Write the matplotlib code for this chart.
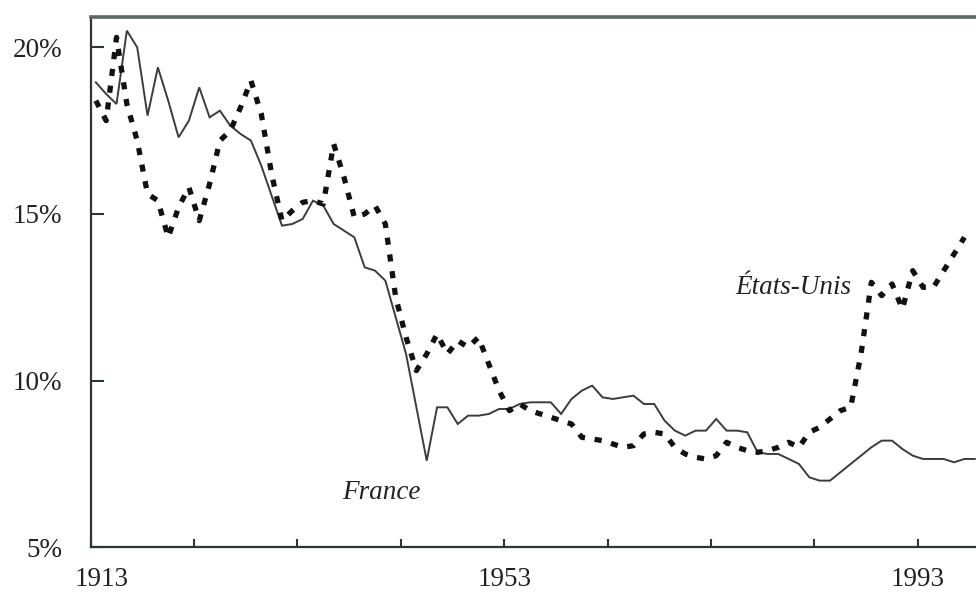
import numpy as np
import matplotlib
matplotlib.use("Agg")
import matplotlib.pyplot as plt
import matplotlib.transforms as mtransforms

# ---- data (share, %) ----
years_fr = list(range(1913, 1999))
france = [18.95, 18.6, 18.3, 20.5, 20.0, 17.95, 19.4, 18.4, 17.3, 17.8,
          18.8, 17.9, 18.1, 17.65, 17.4, 17.2, 16.45, 15.55, 14.65, 14.7,
          14.85, 15.4, 15.25, 14.7, 14.5, 14.3, 13.4, 13.3, 13.0, 11.9,
          10.8, 9.2, 7.6, 9.2, 9.2, 8.7, 8.95, 8.95, 9.0, 9.15,
          9.15, 9.3, 9.35, 9.35, 9.35, 9.0, 9.45, 9.7, 9.85, 9.5,
          9.45, 9.5, 9.55, 9.3, 9.3, 8.8, 8.5, 8.35, 8.5, 8.5,
          8.85, 8.5, 8.5, 8.45, 7.85, 7.8, 7.8, 7.65, 7.5, 7.1,
          7.0, 7.0, 7.25, 7.5, 7.75, 8.0, 8.2, 8.2, 7.95, 7.75,
          7.65, 7.65, 7.65, 7.55, 7.65, 7.65]

years_us = list(range(1913, 1998))
usa = [18.4, 17.8, 20.3, 18.3, 17.2, 15.6, 15.4, 14.3, 15.2, 15.8,
       14.8, 15.9, 17.2, 17.5, 18.2, 19.0, 18.0, 16.2, 14.8, 15.1,
       15.35, 15.4, 15.3, 17.1, 16.1, 14.9, 15.0, 15.25, 14.7, 12.5,
       11.3, 10.3, 10.8, 11.4, 10.8, 11.2, 11.0, 11.3, 10.5, 9.7,
       9.1, 9.3, 9.1, 9.0, 8.9, 8.8, 8.7, 8.3, 8.25, 8.2,
       8.1, 8.0, 8.05, 8.4, 8.45, 8.4, 8.0, 7.8, 7.7, 7.65,
       7.75, 8.15, 8.0, 7.9, 7.85, 7.9, 8.0, 8.15, 8.0, 8.45,
       8.6, 8.85, 9.1, 9.2, 10.8, 12.95, 12.55, 12.9, 12.15, 13.3,
       12.8, 12.8, 13.3, 13.8, 14.3]

xtick_years = list(range(1913, 2000, 10))
xtick_labels = ["1913", "", "", "", "1953", "", "", "", "1993"]
ytick_values = [5, 10, 15, 20]
ytick_labels = ["5%", "10%", "15%", "20%"]

label_fr = "France"
label_us = "États-Unis"

# ---- figure ----
plt.rcParams['font.family'] = ['Liberation Serif', 'DejaVu Serif']
fig = plt.figure(figsize=(9.76, 5.92), dpi=100)
ax = fig.add_axes([0.0929, 0.0755, 0.9071, 0.8958])

# values plotted at mid-year
x_fr = np.array(years_fr) + 0.5
x_us = np.array(years_us) + 0.5

ax.plot(x_fr, france, color='#3c3c3c', lw=1.4, solid_joinstyle='miter')
ax.plot(x_us, usa, color='#111111', lw=3.8, linestyle=(0, (1.35, 1.85)),
        dash_capstyle='butt')

ax.set_xlim(1913, 1998.62)
ax.set_ylim(5, 20.91)

ax.set_xticks(xtick_years)
ax.set_xticklabels(xtick_labels)
ax.set_yticks(ytick_values)
ax.set_yticklabels(ytick_labels)

ax.tick_params(axis='x', direction='in', length=6, width=1.5, color='#2b3636',
               pad=14.5, labelsize=19.5, labelcolor='#222222')
ax.tick_params(axis='y', direction='in', length=9, width=1.5, color='#2b3636',
               pad=20.5, labelsize=19.5, labelcolor='#222222')

for side in ['left', 'bottom']:
    ax.spines[side].set_color('#2b3636')
    ax.spines[side].set_linewidth(1.6)
ax.spines['top'].set_color('#5f6868')
ax.spines['top'].set_linewidth(2.6)
ax.spines['right'].set_visible(False)

# nudge first x label right (as in the original)
lbl = ax.get_xticklabels()[0]
lbl.set_transform(lbl.get_transform() +
                  mtransforms.ScaledTranslation(8 / 72, 0, fig.dpi_scale_trans))

ax.text(1937.3, 6.44, label_fr, fontsize=19.5, style='italic',
        color='#222222', va='baseline', ha='left')
ax.text(1975.3, 12.6, label_us, fontsize=19.5, style='italic',
        color='#222222', va='baseline', ha='left')

fig.savefig('out.png', dpi=100)
